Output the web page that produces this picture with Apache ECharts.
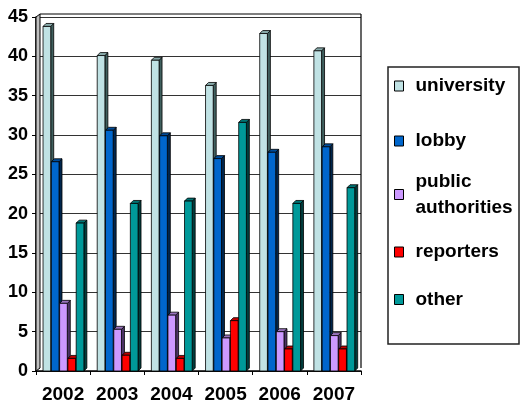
<!DOCTYPE html>
<html><head><meta charset="utf-8">
<script src="https://cdn.jsdelivr.net/npm/echarts@6/dist/echarts.min.js"></script>
<style>html,body{margin:0;padding:0;background:#fff}#c{width:528px;height:410px}</style>
</head><body><div id="c"></div>
<script>
const categories = ['2002', '2003', '2004', '2005', '2006', '2007'];
const seriesNames = ['university', 'lobby', 'public authorities', 'reporters', 'other'];
const university = [43.8, 40.1, 39.5, 36.3, 42.9, 40.7];
const lobby = [26.6, 30.6, 29.9, 27.0, 27.8, 28.5];
const publicAuthorities = [8.6, 5.3, 7.1, 4.2, 5.0, 4.5];
const reporters = [1.6, 2.0, 1.6, 6.4, 2.8, 2.8];
const other = [18.8, 21.3, 21.6, 31.6, 21.3, 23.3];
const yTickValues = [0, 5, 10, 15, 20, 25, 30, 35, 40, 45];

const seriesValues = [university, lobby, publicAuthorities, reporters, other];
const faceColors = [
  ['#C0E2E4', '#40605F', '#88AAAA'],
  ['#0066CC', '#00264D', '#004C99'],
  ['#CC99FF', '#4C3366', '#9973BF'],
  ['#FF0000', '#660000', '#BF0000'],
  ['#009999', '#003D3D', '#007373']
];

function makeRender(idx) {
  const c = faceColors[idx];
  return function (params, api) {
    const cat = api.value(0), v = api.value(1);
    const base = api.coord([cat, 0]);
    const top = api.coord([cat, v]);
    const band = api.size([1, 0])[0];
    const stride = band * 0.153;
    const w = band * 0.142;
    const d = band * 0.055;
    const x0 = base[0] - band / 2 + band * 0.13 + idx * stride;
    const yT = top[1], yB = base[1];
    const st = { stroke: '#000', lineWidth: 0.8 };
    return {
      type: 'group',
      children: [
        { type: 'polygon', shape: { points: [[x0 + w, yT], [x0 + w + d, yT - d], [x0 + w + d, yB - d], [x0 + w, yB]] }, style: Object.assign({ fill: c[1] }, st) },
        { type: 'polygon', shape: { points: [[x0, yT], [x0 + d, yT - d], [x0 + w + d, yT - d], [x0 + w, yT]] }, style: Object.assign({ fill: c[2] }, st) },
        { type: 'rect', shape: { x: x0, y: yT, width: w, height: yB - yT }, style: Object.assign({ fill: c[0] }, st) }
      ]
    };
  };
}

const legendCenters = [86, 141, 194.5, 252, 299.5];
const legendFont = { fontFamily: 'Liberation Sans, Arial', fontWeight: 'bold', fontSize: 19, color: '#000' };

const chart = echarts.init(document.getElementById('c'));
chart.setOption({
  animation: false,
  backgroundColor: '#fff',
  grid: { left: 36, right: 167, top: 17, bottom: 39 },
  xAxis: {
    type: 'category', data: categories,
    axisLine: { lineStyle: { color: '#000', width: 1.5 } },
    axisTick: { show: true, length: 4, lineStyle: { color: '#000' } },
    axisLabel: { interval: 0, color: '#000', fontFamily: 'Liberation Sans, Arial', fontWeight: 'bold', fontSize: 19, margin: 14 }
  },
  yAxis: {
    type: 'value', min: yTickValues[0], max: yTickValues[yTickValues.length - 1], interval: 5,
    axisLine: { show: true, lineStyle: { color: '#000', width: 1.5 } },
    axisTick: { show: true, length: 4, lineStyle: { color: '#000' } },
    axisLabel: { color: '#000', fontFamily: 'Liberation Sans, Arial', fontWeight: 'bold', fontSize: 18, margin: 8 },
    splitLine: { show: true, lineStyle: { color: '#333', width: 1 } }
  },
  legend: seriesNames.map((n, i) => {
    const multi = n === 'public authorities';
    const lh = multi ? 26 : 22;
    return {
      data: [n], orient: 'vertical', left: 394,
      top: multi ? legendCenters[i] - 39 : legendCenters[i] - lh / 2,
      padding: 0, itemWidth: 9, itemHeight: 10, icon: 'rect', selectedMode: false,
      itemStyle: { borderColor: '#000', borderWidth: 1 },
      formatter: multi ? 'public\nauthorities' : '{name}',
      textStyle: Object.assign({ lineHeight: lh, padding: multi ? [26, 0, 0, 7] : [0, 0, 0, 7] }, legendFont)
    };
  }),
  graphic: [
    { type: 'polygon', z: 100, shape: { points: [[36, 371], [36, 17], [40, 14], [40, 368]] }, style: { fill: '#C0C0C0', stroke: '#000', lineWidth: 1 } },
    { type: 'line', z: 100, shape: { x1: 40, y1: 14, x2: 361, y2: 14 }, style: { stroke: '#000', lineWidth: 1.2 } },
    { type: 'line', z: 100, shape: { x1: 361, y1: 14, x2: 361, y2: 368 }, style: { stroke: '#000', lineWidth: 1.2 } },
    { type: 'rect', z: 100, shape: { x: 388, y: 67, width: 131, height: 277 }, style: { fill: 'none', stroke: '#222', lineWidth: 1.5 } }
  ],
  series: seriesNames.map((n, i) => ({
    name: n, type: 'custom',
    itemStyle: { color: faceColors[i][0] },
    encode: { x: 0, y: 1 },
    data: seriesValues[i].map((v, k) => [k, v]),
    renderItem: makeRender(i)
  }))
});
</script>
</body></html>
